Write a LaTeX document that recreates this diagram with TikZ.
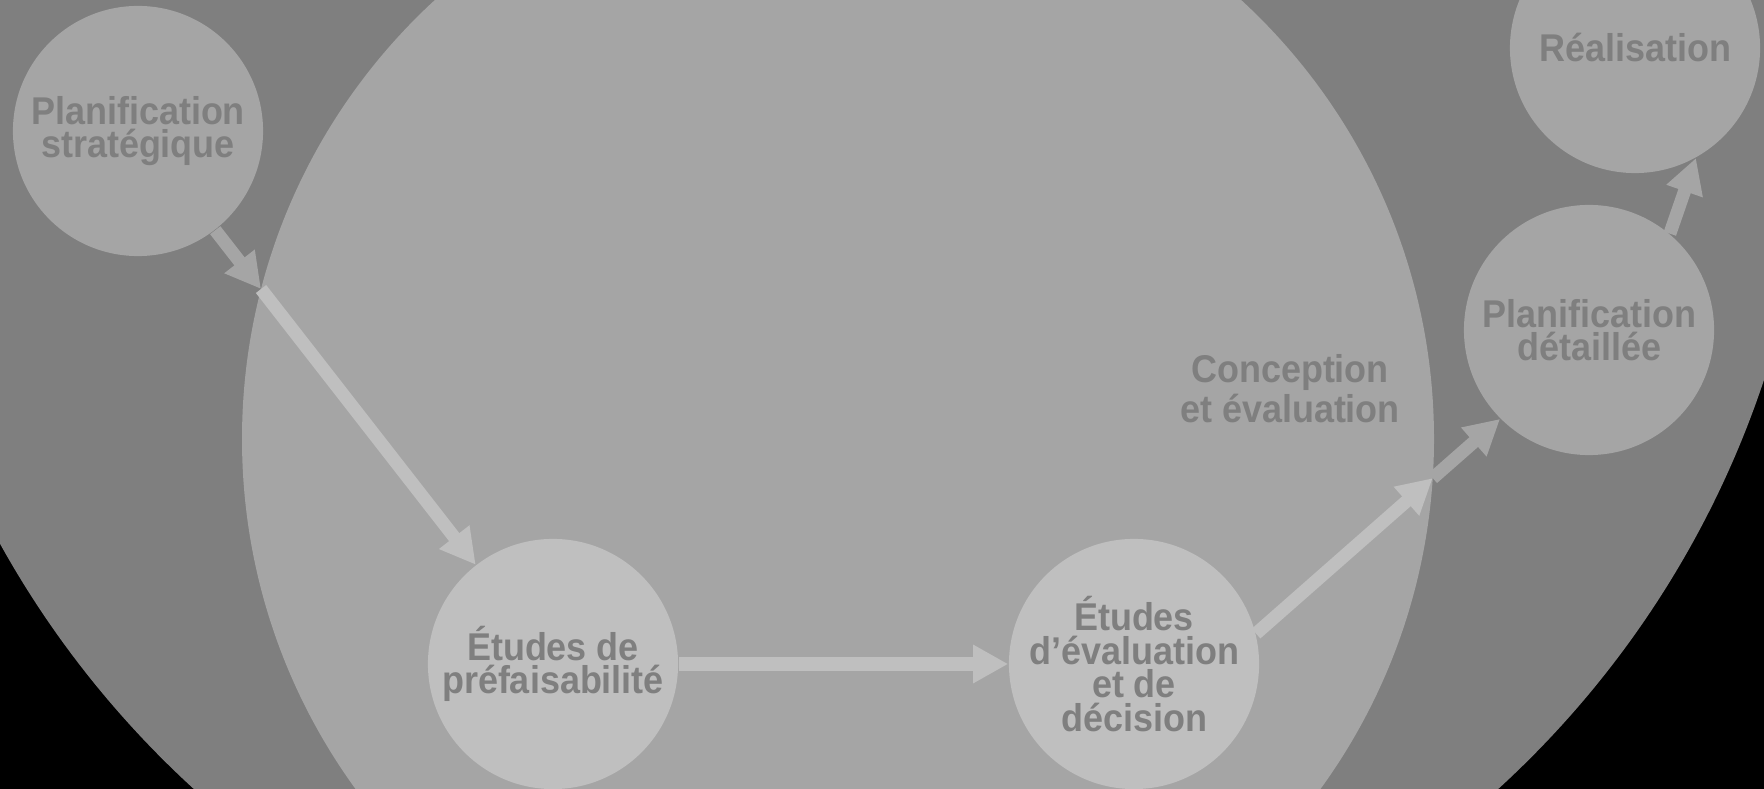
\documentclass[tikz,border=0pt]{standalone}
\usepackage{fontspec}
\newfontfamily\lblfont[FakeStretch=0.93]{Liberation Sans}
\usetikzlibrary{arrows.meta,intersections}

\definecolor{ringdark}{HTML}{7F7F7F}
\definecolor{ringmid}{HTML}{A5A5A5}
\definecolor{ringlight}{HTML}{BFBFBF}
\definecolor{labelgray}{HTML}{7F7F7F}

\tikzset{
  phase/.style={circle, minimum size=2.5cm, inner sep=0pt, align=center,
    text=labelgray, font=\lblfont\bfseries\fontsize{11pt}{9.5pt}\selectfont},
  outerphase/.style={phase, fill=ringmid},
  innerphase/.style={phase, fill=ringlight},
  flow/.style={line width=0.13cm, -{Triangle[length=0.35cm,width=0.36cm]}},
  zonelabel/.style={align=center, text=labelgray,
    font=\lblfont\bfseries\fontsize{11pt}{9.5pt}\selectfont}
}

\begin{document}
\begin{tikzpicture}[x=0.01cm, y=-0.01cm]
  \useasboundingbox (0,0) rectangle (1764,789);
  \begin{scope}
    \clip (0,0) rectangle (1764,789);
    \fill[black] (0,0) rectangle (1764,789);
    % outer ring and design zone
    \fill[ringdark] (846,75) circle (967);
    \fill[ringmid] (838,439) circle (596);
    \path[name path=midring] (838,439) circle (596);

    % project phases
    \node[outerphase] (sp) at (138,131) {Planification\\stratégique};
    \node[outerphase] (re) at (1635,48) {Réalisation};
    \node[outerphase] (pd) at (1589,330) {Planification\\détaillée};
    \node[innerphase] (ep) at (553,664) {Études de\\préfaisabilité};
    \node[innerphase] (ed) at (1134,664) {Études\\d’évaluation\\et de\\décision};

    \node[zonelabel] (ce) at (1290,389) {Conception\\et évaluation};

    % left link, split at the zone border
    \path[name path=leftlink] (sp) -- (ep);
    \path[name intersections={of=midring and leftlink, by=jl}];
    \draw[flow, ringlight] (jl) -- (ep);
    \draw[flow, ringmid] (sp) -- (jl);

    % horizontal link
    \draw[flow, ringlight] (ep) -- (ed);

    % right link, split at the zone border
    \path[name path=rightlink] (ed.14) -- (pd.-135);
    \path[name intersections={of=midring and rightlink, by=jr}];
    \draw[flow, ringmid] (jr) -- (pd.-135);
    \draw[flow, ringlight] (ed.14) -- (jr);

    % to construction
    \draw[flow, ringmid] (pd.50) -- (re.-61);
  \end{scope}
\end{tikzpicture}
\end{document}
